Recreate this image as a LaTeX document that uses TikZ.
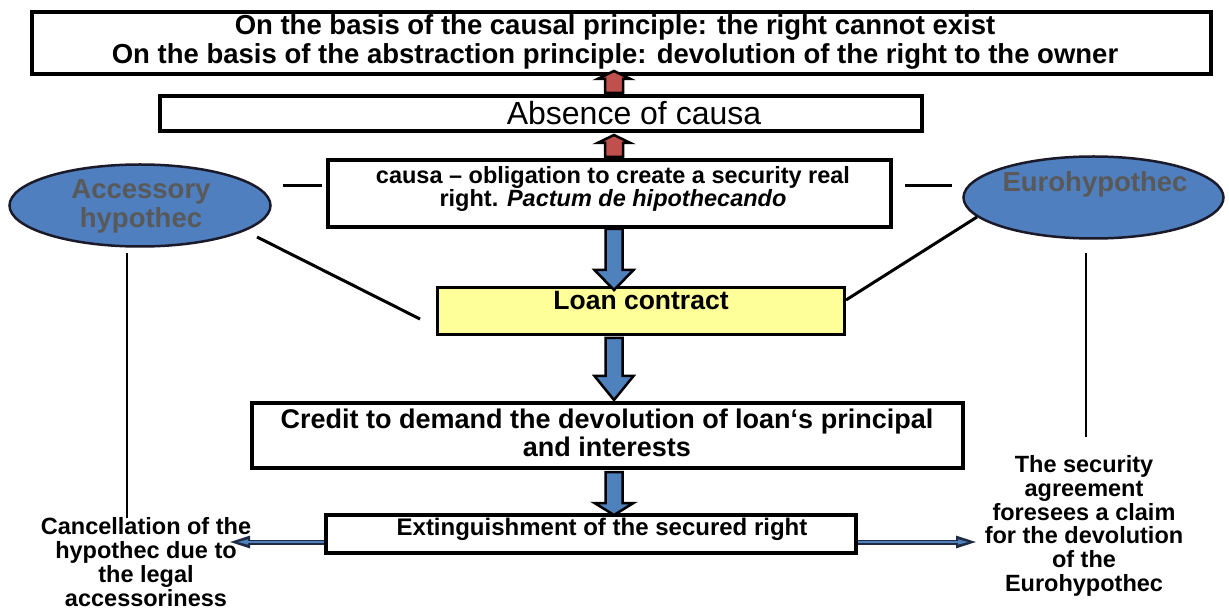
\documentclass[tikz,border=0pt]{standalone}
\usepackage{fontspec}
\setmainfont{Liberation Sans}
\usetikzlibrary{arrows.meta,shapes.geometric,calc}
\definecolor{pptblue}{HTML}{4F81BD}
\definecolor{ovalblue}{HTML}{4F7FBE}
\definecolor{ovalline}{HTML}{1A1A2A}
\definecolor{pptred}{HTML}{C0504D}
\definecolor{pptyellow}{HTML}{FFFF99}
\definecolor{ovaltext}{HTML}{595959}
\definecolor{navyline}{HTML}{1F2A44}
\newcommand\blkdown[5]{%
  \filldraw[fill=#5, draw=black, line width=2.5pt, line join=miter]
  (#1-8.5,#2) -- (#1+8.5,#2) -- (#1+8.5,#3-#4) -- (#1+19.5,#3-#4) -- (#1,#3)
  -- (#1-19.5,#3-#4) -- (#1-8.5,#3-#4) -- cycle;}
\newcommand\blkup[5]{%
  \filldraw[fill=#5, draw=black, line width=2.5pt, line join=miter]
  (#1-9,#2) -- (#1+9,#2) -- (#1+9,#3+#4) -- (#1+16.5,#3+#4) -- (#1,#3)
  -- (#1-16.5,#3+#4) -- (#1-9,#3+#4) -- cycle;}
\begin{document}
\begin{tikzpicture}[x=1pt,y=-1pt,
  box/.style={rectangle, draw=black, line width=4pt, fill=white, inner sep=0pt},
  oval/.style={ellipse, draw=ovalline, line width=2.5pt, fill=ovalblue, inner sep=0pt},
  txt/.style={align=center, inner sep=0pt},
  link/.style={draw=black, line width=3pt},
  thinarrow/.style={draw=navyline, line width=5pt, -{Triangle[length=22pt,width=11pt]}},
  thininner/.style={draw=pptblue, line width=2pt, shorten >=9pt, -{Triangle[length=11pt,width=4.5pt]}},
]
\useasboundingbox (0,0) rectangle (1229,609);
\fill[white] (0,0) rectangle (1229,609);

% boxes
\node[box, minimum width=1179pt, minimum height=62pt] (top) at (621.5,43) {};
\node[box, minimum width=762pt, minimum height=35pt] (absence) at (541,113.5) {};
\node[box, minimum width=563pt, minimum height=67pt] (causa) at (609.5,193.5) {};
\node[box, fill=pptyellow, line width=3.5pt, minimum width=407pt, minimum height=47pt] (loan) at (641,311) {};
\node[box, minimum width=711pt, minimum height=65pt] (credit) at (607.5,435.5) {};
\node[box, minimum width=530pt, minimum height=38pt] (ext) at (591,534) {};

% ellipses
\node[oval, minimum width=261pt, minimum height=82pt] (acc) at (140,205.5) {};
\node[oval, minimum width=260pt, minimum height=82pt] (euro) at (1093.5,197.5) {};

% texts
\node[txt, font=\bfseries\fontsize{27.5}{29.5}\selectfont] (toptxt) at (615,42)
  {On the basis of the causal principle: the right cannot exist\\
   On the basis of the abstraction principle: devolution of the right to the owner};
\node[txt, font=\fontsize{32}{34}\selectfont] (abstxt) at (634,113) {Absence of causa};
\node[txt, font=\bfseries\fontsize{23.5}{23}\selectfont] (causatxt) at (613,189)
  {causa -- obligation to create a security real\\ right. \textit{Pactum de hipothecando}};
\node[txt, font=\bfseries\fontsize{26.5}{28}\selectfont] (loantxt) at (641,301) {Loan contract};
\node[txt, font=\bfseries\fontsize{27}{28}\selectfont] (credittxt) at (607,433)
  {Credit to demand the devolution of loan‘s principal\\ and interests};
\node[txt, font=\bfseries\fontsize{24}{26}\selectfont] (exttxt) at (602,529) {Extinguishment of the secured right};
\node[txt, text=ovaltext, font=\bfseries\fontsize{27.5}{29}\selectfont] (acctxt) at (141,206) {Accessory\\ hypothec};
\node[txt, text=ovaltext, font=\bfseries\fontsize{27.5}{29}\selectfont] (eurotxt) at (1095,184) {Eurohypothec};
\node[txt, font=\bfseries\fontsize{23.5}{24}\selectfont] (lefttxt) at (146,562)
  {Cancellation of the\\ hypothec due to\\ the legal\\ accessoriness};
\node[txt, font=\bfseries\fontsize{23.5}{23.8}\selectfont] (righttxt) at (1084,526)
  {The security\\ agreement\\ foresees a claim\\ for the devolution\\ of the\\ Eurohypothec};

% connector coordinates
\coordinate (dl1) at (283,186);
\coordinate (dl2) at (322,186);
\coordinate (dr1) at (905,186);
\coordinate (dr2) at (952,186);
\coordinate (diagL1) at (257,237);
\coordinate (diagL2) at (420,319);
\coordinate (diagR1) at (977,217);
\coordinate (diagR2) at (846,300);
\coordinate (vL1) at (127,253);
\coordinate (vL2) at (127,518);
\coordinate (vR1) at (1086,253);
\coordinate (vR2) at (1086,437);
\coordinate (la) at (228,542);
\coordinate (ra) at (978,542);

% lines
\draw[link] (dl1) -- (dl2);
\draw[link] (dr1) -- (dr2);
\draw[link] (diagL1) -- (diagL2);
\draw[link] (diagR1) -- (diagR2);
\draw[link, line width=2.5pt] (vL1) -- (vL2);
\draw[link, line width=2.5pt] (vR1) -- (vR2);

% thin arrows from extinguishment box
\draw[thinarrow] (ext.west |- la) -- (la);
\draw[thininner] (ext.west |- la) -- (la);
\draw[thinarrow] (ext.east |- ra) -- (ra);
\draw[thininner] (ext.east |- ra) -- (ra);

% red block arrows (upwards)
\blkup{614}{93}{71}{8}{pptred}
\blkup{614}{157}{135}{8}{pptred}
% blue block arrows (downwards)
\blkdown{614}{229}{290}{20}{pptblue}
\blkdown{614}{338}{400}{24}{pptblue}
\blkdown{614}{472}{515}{12}{pptblue}
\end{tikzpicture}
\end{document}
